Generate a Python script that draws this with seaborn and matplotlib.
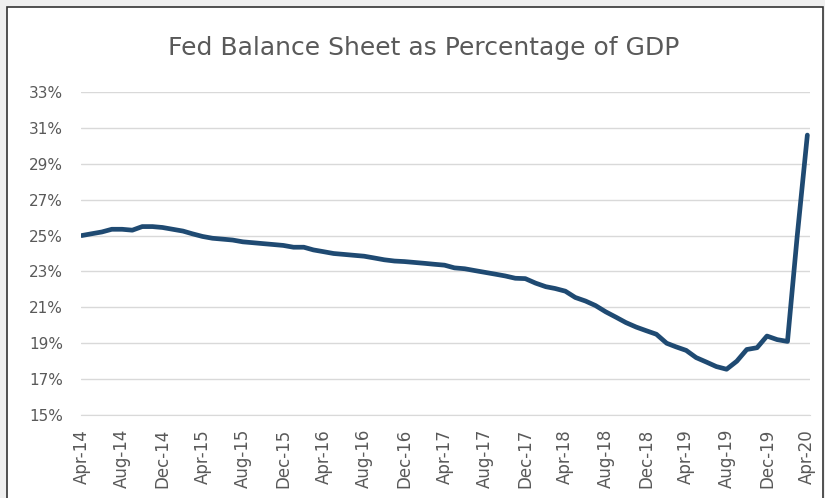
import pandas as pd
import seaborn as sns
import matplotlib.pyplot as plt
import matplotlib.dates as mdates
from matplotlib.patches import Rectangle

# Monthly Fed balance sheet as % of GDP, Apr-2014 .. Apr-2020
months = pd.date_range('2014-04-01', periods=73, freq='MS')
pct_gdp = [
    25.0, 25.1, 25.2, 25.35, 25.35, 25.3, 25.5, 25.5, 25.45, 25.35, 25.25, 25.1,
    24.95, 24.85, 24.8, 24.75, 24.65, 24.6, 24.55, 24.5, 24.45, 24.35, 24.35, 24.2,
    24.1, 24.0, 23.95, 23.9, 23.85, 23.75, 23.65, 23.58, 23.55, 23.5, 23.45, 23.4,
    23.35, 23.2, 23.15, 23.05, 22.95, 22.85, 22.75, 22.62, 22.6, 22.35, 22.15, 22.05,
    21.9, 21.55, 21.35, 21.1, 20.75, 20.45, 20.15, 19.9, 19.7, 19.5, 19.0, 18.8,
    18.6, 18.2, 17.95, 17.7, 17.55, 18.0, 18.65, 18.75, 19.4, 19.2, 19.1, 24.9,
    30.6,
]
y_ticks = [15, 17, 19, 21, 23, 25, 27, 29, 31, 33]

df = pd.DataFrame({'Month': months, 'Pct': pct_gdp})

sns.set_style('white')
plt.rcParams['font.family'] = ['DejaVu Sans']

fig = plt.figure(figsize=(8.25, 4.98), dpi=100, facecolor='#efefef')
# white chart panel with a dark frame, behind the axes
fig.patches.append(Rectangle((7 / 825, -0.01), 816 / 825, 1 - 7 / 498 + 0.01,
                             transform=fig.transFigure, facecolor='white',
                             edgecolor='#333333', linewidth=1.2, zorder=-10))

ax = fig.add_axes([81 / 825, 1 - 415 / 498, 729 / 825, 323 / 498])
ax.set_facecolor('none')
sns.lineplot(data=df, x='Month', y='Pct', ax=ax, color='#1f4a72', linewidth=3.4)

ax.set_ylim(15, 33)
ax.set_yticks(y_ticks)
ax.set_yticklabels([f'{t}%' for t in y_ticks])
ax.set_xlim(months[0] - pd.Timedelta(days=2), months[-1] + pd.Timedelta(days=8))
ax.xaxis.set_major_locator(mdates.MonthLocator(bymonth=[4, 8, 12]))
ax.xaxis.set_major_formatter(mdates.DateFormatter('%b-%y'))

ax.grid(axis='y', color='#d9d9d9', linewidth=1)
ax.set_axisbelow(True)
for side in ['top', 'right', 'left']:
    ax.spines[side].set_visible(False)
ax.spines['bottom'].set_color('#d9d9d9')
ax.spines['bottom'].set_zorder(0)

ax.tick_params(axis='x', which='major', length=5, color='#d9d9d9', direction='out',
               labelsize=12, labelcolor='#595959', rotation=90, pad=5)
ax.tick_params(axis='y', length=0, labelsize=11, labelcolor='#595959', pad=13)
ax.set_xlabel('')
ax.set_ylabel('')

fig.text(424 / 825, 1 - 55 / 498, 'Fed Balance Sheet as Percentage of GDP', ha='center',
         va='baseline', fontsize=18, color='#595959')

fig.savefig('out.png', dpi=100, facecolor=fig.get_facecolor())
